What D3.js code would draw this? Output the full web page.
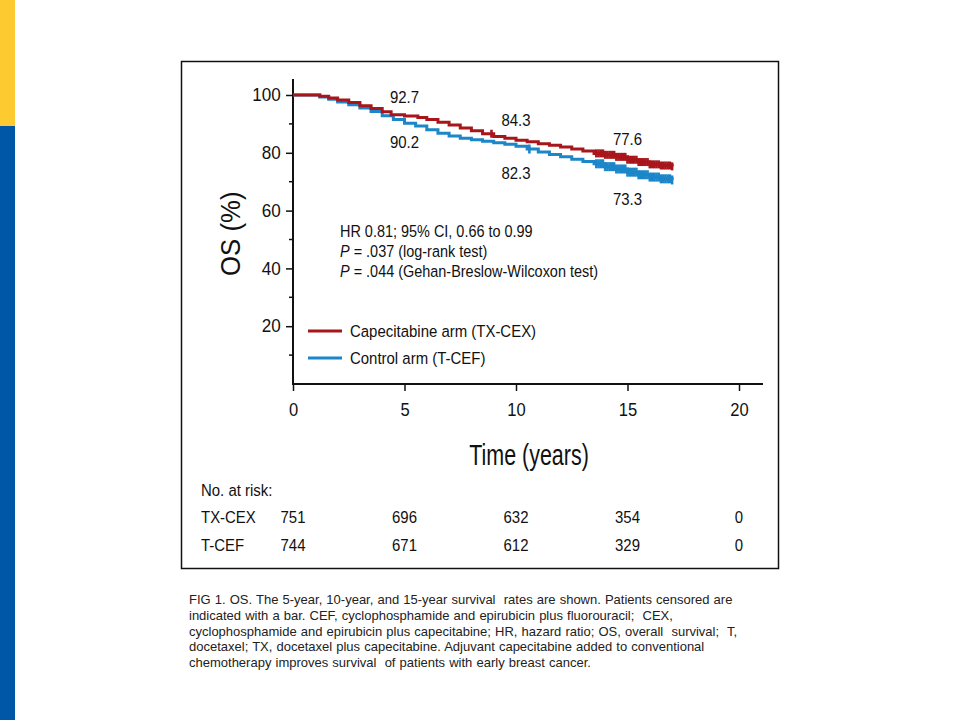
<!DOCTYPE html>
<html><head><meta charset="utf-8">
<script src="https://cdn.jsdelivr.net/npm/d3@7"></script>
<style>
body{margin:0;background:#fff;}
svg{display:block;}
.cf{font-family:"Liberation Sans",Arial,Helvetica,sans-serif;}
.cap{font-family:"Liberation Sans",Arial,sans-serif;}
</style></head>
<body>
<script>
// ---- data ----
const redTimes  = [0,0.9,1.2,1.6,2.0,2.5,3.0,3.5,4.0,4.4,5.0,5.6,6.0,6.5,7.0,7.5,8.0,8.5,9.0,9.5,10.0,10.5,11.0,11.5,12.0,12.5,13.0,13.5,14.0,14.5,15.0,15.5,16.0,16.5,17.0];
const redSurv   = [100,100,99.6,99.0,98.3,97.4,96.3,95.3,94.2,93.2,92.7,92.2,91.5,90.6,89.6,88.6,87.6,86.6,85.6,85.0,84.3,83.8,83.1,82.6,82.0,81.3,80.6,79.8,79.3,78.6,77.6,76.8,76.0,75.6,75.3];
const blueTimes = [0,0.9,1.2,1.6,2.0,2.5,3.0,3.5,4.0,4.5,5.0,5.5,6.0,6.5,7.0,7.5,8.0,8.5,9.0,9.5,10.0,10.5,11.0,11.5,12.0,12.5,13.0,13.5,14.0,14.5,15.0,15.5,16.0,16.5,17.0];
const blueSurv  = [100,100,99.3,98.5,97.6,96.6,95.5,94.3,92.8,91.5,90.2,89.3,88.0,86.8,85.8,85.0,84.5,84.0,83.5,83.0,82.3,81.3,80.3,79.4,78.6,77.8,77.0,76.2,75.2,74.4,73.3,72.4,71.6,71.0,70.6];
const redCensor  = [8.9,13.6,13.7,13.8,13.9,14.0,14.1,14.2,14.3,14.4,14.5,14.6,14.7,14.8,14.9,15.0,15.1,15.2,15.3,15.4,15.5,15.6,15.7,15.8,15.9,16.0,16.1,16.2,16.3,16.4,16.5,16.6,16.7,16.8,16.9,17.0];
const blueCensor = [10.6,13.6,13.7,13.8,13.9,14.0,14.1,14.2,14.3,14.4,14.5,14.6,14.7,14.8,14.9,15.0,15.1,15.2,15.3,15.4,15.5,15.6,15.7,15.8,15.9,16.0,16.1,16.2,16.3,16.4,16.5,16.6,16.7,16.8,16.9,17.0];
const rateYears  = [5,10,15];
const redRates   = ["92.7","84.3","77.6"];
const blueRates  = ["90.2","82.3","73.3"];
const xTicks = [0,5,10,15,20];
const yTicks = [20,40,60,80,100];
const yMinor = [10,30,50,70,90];
const riskTimes = [0,5,10,15,20];
const riskTX  = [751,696,632,354,0];
const riskTC  = [744,671,612,329,0];
const seriesNames = ["Capecitabine arm (TX-CEX)","Control arm (T-CEF)"];
const riskLabels = ["TX-CEX","T-CEF"];
const statsLines = [["","HR 0.81; 95% CI, 0.66 to 0.99"],["P"," = .037 (log-rank test)"],["P"," = .044 (Gehan-Breslow-Wilcoxon test)"]];
const captionLines = [
 "FIG 1. OS. The 5-year, 10-year, and 15-year survival  rates are shown. Patients censored are",
 "indicated with a bar. CEF, cyclophosphamide and epirubicin plus fluorouracil;  CEX,",
 "cyclophosphamide and epirubicin plus capecitabine; HR, hazard ratio; OS, overall  survival;  T,",
 "docetaxel; TX, docetaxel plus capecitabine. Adjuvant capecitabine added to conventional",
 "chemotherapy improves survival  of patients with early breast cancer."];

// ---- style / layout ----
const RED="#a8161b", BLUE="#1b86c8", INK="#111";
const SX = 0.88;                 // horizontal condensing of chart font
const redLabelDy  = [-13,-14,-15];
const blueLabelDy = [25,33,33];

const svg = d3.select("body").append("svg").attr("width",960).attr("height",720);
svg.append("rect").attr("x",0).attr("y",0).attr("width",15).attr("height",126).attr("fill","#fdca30");
svg.append("rect").attr("x",0).attr("y",126).attr("width",15).attr("height",594).attr("fill","#0057a8");
svg.append("rect").attr("x",181.5).attr("y",61.5).attr("width",597).attr("height",507).attr("fill","#fff").attr("stroke",INK).attr("stroke-width",1.5);

const x = d3.scaleLinear().domain([0,20]).range([293,739]);
const y = d3.scaleLinear().domain([0,100]).range([384,95]);

const g = svg.append("g").attr("class","cf");

function label(parent, px, py, str, opts={}){
  const t = parent.append("text")
    .attr("transform",`translate(${px},${py}) scale(${opts.sx||SX},1)`)
    .attr("text-anchor",opts.anchor||"start")
    .attr("font-size",opts.size||17).attr("fill",INK);
  if(str!==null) t.text(str);
  return t;
}

// y axis
const ya = g.append("g").attr("transform",`translate(${x(0)},0)`)
  .call(d3.axisLeft(y).tickValues(yTicks).tickSize(7).tickPadding(5).tickSizeOuter(0));
ya.select(".domain").remove();
ya.selectAll("text").attr("font-size",18).attr("fill",INK).attr("transform","scale(0.95,1)").attr("x",-13);
ya.selectAll("line").attr("stroke",INK).attr("stroke-width",1.5);
g.selectAll(".ymin").data(yMinor).enter().append("line")
  .attr("x1",x(0)-4).attr("x2",x(0)).attr("y1",d=>y(d)).attr("y2",d=>y(d)).attr("stroke",INK).attr("stroke-width",1.5);
g.append("line").attr("x1",x(0)).attr("x2",x(0)).attr("y1",y(0)+1).attr("y2",y(100)-16).attr("stroke",INK).attr("stroke-width",2);

// x axis
const xa = g.append("g").attr("transform",`translate(0,${y(0)})`)
  .call(d3.axisBottom(x).tickValues(xTicks).tickSize(7).tickPadding(12).tickSizeOuter(0));
xa.select(".domain").remove();
xa.selectAll("text").attr("font-size",18).attr("fill",INK).attr("transform","scale(0.92,1)");
xa.selectAll("line").attr("stroke",INK).attr("stroke-width",1.5);
g.append("line").attr("x1",x(0)-1).attr("x2",x(20)+24).attr("y1",y(0)).attr("y2",y(0)).attr("stroke",INK).attr("stroke-width",2);

// axis titles
g.append("text").attr("transform",`translate(240,${y(52)}) rotate(-90) scale(0.92,1)`).attr("text-anchor","middle")
  .attr("font-size",28).attr("fill",INK).text("OS (%)");
label(g,(x(0)+x(20)+24)/2+1,465,"Time (years)",{anchor:"middle",size:29,sx:0.74});

// curves
const line = d3.line().x(d=>x(d[0])).y(d=>y(d[1])).curve(d3.curveStepAfter);
const redData = redTimes.map((t,i)=>[t,redSurv[i]]);
const blueData = blueTimes.map((t,i)=>[t,blueSurv[i]]);
g.append("path").datum(blueData).attr("d",line).attr("fill","none").attr("stroke",BLUE).attr("stroke-width",3);
g.append("path").datum(redData).attr("d",line).attr("fill","none").attr("stroke",RED).attr("stroke-width",3);

function survAt(times,surv,t){let v=surv[0];for(let i=0;i<times.length;i++){if(times[i]<=t)v=surv[i];}return v;}
g.selectAll(".cb").data(blueCensor).enter().append("line")
  .attr("x1",d=>x(d)).attr("x2",d=>x(d))
  .attr("y1",d=>y(survAt(blueTimes,blueSurv,d))-4.5).attr("y2",d=>y(survAt(blueTimes,blueSurv,d))+4.5)
  .attr("stroke",BLUE).attr("stroke-width",2.6);
g.selectAll(".cr").data(redCensor).enter().append("line")
  .attr("x1",d=>x(d)).attr("x2",d=>x(d))
  .attr("y1",d=>y(survAt(redTimes,redSurv,d))-4).attr("y2",d=>y(survAt(redTimes,redSurv,d))+4)
  .attr("stroke",RED).attr("stroke-width",2.6);

// rate labels
rateYears.forEach((yr,i)=>{
  label(g,x(yr),y(+redRates[i])+redLabelDy[i],redRates[i],{anchor:"middle"});
  label(g,x(yr),y(+blueRates[i])+blueLabelDy[i],blueRates[i],{anchor:"middle"});
});

// stats
statsLines.forEach((l,i)=>{
  const t=label(g,340,237+i*20,null,{sx:0.85});
  if(l[0]) t.append("tspan").attr("font-style","italic").text(l[0]);
  t.append("tspan").text(l[1]);
});

// legend
[RED,BLUE].forEach((c,i)=>{
  g.append("line").attr("x1",308).attr("x2",342).attr("y1",331+i*27).attr("y2",331+i*27).attr("stroke",c).attr("stroke-width",3);
  label(g,350,337+i*27,seriesNames[i]);
});

// risk table
label(g,201,496,"No. at risk:");
[riskTX,riskTC].forEach((row,r)=>{
  const yy=523+r*28;
  label(g,201,yy,riskLabels[r]);
  riskTimes.forEach((t,i)=>label(g,x(t),yy,String(row[i]),{anchor:"middle"}));
});

// caption
const cap = svg.append("g").attr("class","cap");
captionLines.forEach((l,i)=>{
  cap.append("text").attr("x",189).attr("y",604+i*15.8).attr("font-size",13).attr("fill","#222")
    .style("white-space","pre").attr("word-spacing",0.5).text(l);
});
</script>
</body></html>
